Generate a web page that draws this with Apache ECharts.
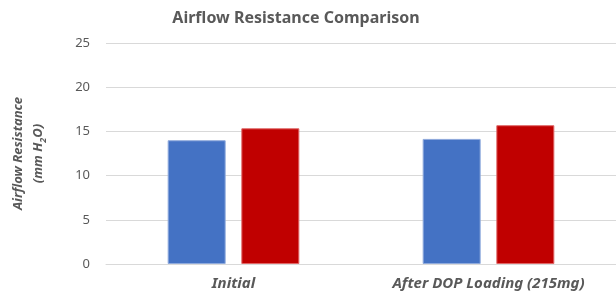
<!DOCTYPE html>
<html>
<head>
<meta charset="utf-8">
<script src="https://cdn.jsdelivr.net/npm/echarts@6/dist/echarts.min.js"></script>
<style>
  html, body { margin: 0; padding: 0; background: #fff; }
  #main { width: 616px; height: 297px; }
</style>
</head>
<body>
<div id="main"></div>
<script>
// data
var categories = ['Initial', 'After DOP Loading (215mg)'];
var seriesA = [14.0, 14.15];
var seriesB = [15.35, 15.7];
var yTicks = { min: 0, max: 25, interval: 5 };

var font = 'Noto Sans';
var gray = '#595959';

var myChart = echarts.init(document.getElementById('main'));

var option = {
  animation: false,
  title: {
    text: 'Airflow Resistance Comparison',
    left: 291,
    textAlign: 'center',
    top: 5,
    textStyle: { fontFamily: font, fontSize: 16, fontWeight: 'bold', color: gray }
  },
  grid: { left: 105, right: 0, top: 43, bottom: 33 },
  xAxis: {
    type: 'category',
    data: categories,
    axisLine: { lineStyle: { color: '#d9d9d9' } },
    axisTick: { show: false },
    axisLabel: {
      margin: 12,
      fontFamily: font, fontSize: 15, fontWeight: 'bold', fontStyle: 'italic', color: gray
    }
  },
  yAxis: {
    type: 'value',
    min: yTicks.min, max: yTicks.max, interval: yTicks.interval,
    axisLine: { show: false },
    axisTick: { show: false },
    splitLine: { lineStyle: { color: '#d9d9d9' } },
    axisLabel: { margin: 16, fontFamily: font, fontSize: 13, color: gray },
    name: 'Airflow Resistance\n(mm H{sub|2}O)',
    nameLocation: 'middle',
    nameGap: 58,
    nameTextStyle: {
      fontFamily: font, fontSize: 13, fontWeight: 'bold', fontStyle: 'italic', color: gray,
      lineHeight: 20,
      rich: {
        sub: { fontFamily: font, fontSize: 9, fontWeight: 'bold', fontStyle: 'italic', color: gray, verticalAlign: 'bottom', padding: [6, 0, 0, 0] }
      }
    }
  },
  series: [
    {
      type: 'bar', data: seriesA, barWidth: 58, barGap: '27%',
      itemStyle: { color: '#4472C4', borderColor: '#8FAADC', borderWidth: 1 }
    },
    {
      type: 'bar', data: seriesB, barWidth: 58,
      itemStyle: { color: '#C00000', borderColor: '#E06666', borderWidth: 1 }
    }
  ]
};

myChart.setOption(option);
</script>
</body>
</html>
